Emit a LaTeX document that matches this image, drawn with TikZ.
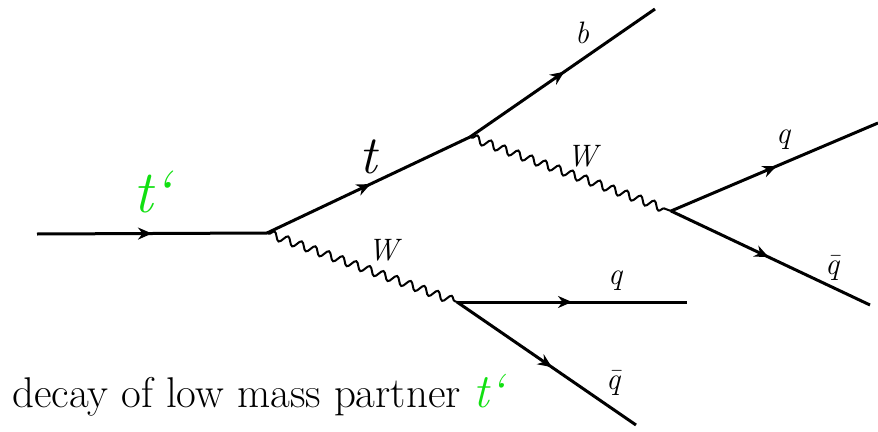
\documentclass[tikz,border=0pt]{standalone}
\usepackage{fontspec}
\usetikzlibrary{arrows.meta,decorations.markings,decorations.pathmorphing}
\definecolor{tpgreen}{HTML}{11E011}

\begin{document}
\begin{tikzpicture}[x=1pt,y=-1pt,
 fermion/.style={line width=3pt,postaction={decorate},
   decoration={markings,mark=at position #1 with {\arrow{Stealth[length=14pt,width=12pt]}}}},
 boson/.style={line width=2pt,decorate,decoration={snake,amplitude=4pt,segment length=14.5pt,pre length=2pt,post length=1pt}},
 lbl/.style={font=\fontsize{31}{31}\selectfont\itshape}]
\useasboundingbox (0,0) rectangle (878,431);
% vertices
\coordinate (in) at (37,234);
\coordinate (vA) at (267,233);
\coordinate (vB) at (470,137);
\coordinate (vC) at (671,211);
\coordinate (vD) at (457,302);
\coordinate (bout) at (655,9);
\coordinate (qout) at (878,123);
\coordinate (qbout) at (870,305);
\coordinate (q2out) at (687,302);
\coordinate (qb2out) at (636,425);
% lines
\draw[fermion=0.5] (in) -- (vA);
\draw[fermion=0.51] (vA) -- (vB);
\draw[fermion=0.51] (vB) -- (bout);
\draw[fermion=0.51] (vC) -- (qout);
\draw[fermion=0.49] (vC) -- (qbout);
\draw[fermion=0.5] (vD) -- (q2out);
\draw[fermion=0.53] (vD) -- (qb2out);
\draw[boson] (vB) -- (vC);
\draw[boson] (vA) -- (vD);
% labels
\node[lbl,text=tpgreen,font=\fontsize{60}{60}\selectfont\itshape] (tplbl) at (152,192) {t‘};
\node[lbl,font=\fontsize{54}{54}\selectfont\itshape] (tlbl) at (368,157) {t};
\node[lbl] (blbl) at (582,33) {b};
\node[lbl] (wup) at (582,156) {W};
\node[lbl] (qup) at (783,140) {q};
\node[lbl] (qbup) at (832,268) {\=q};
\node[lbl] (wlow) at (383,250) {W};
\node[lbl] (qlow) at (615,281) {q};
\node[lbl] (qblow) at (613,383) {\=q};
\node[anchor=base west,inner sep=0pt,font=\fontsize{43}{43}\selectfont] (caption) at (12,407)
  {decay of low mass partner \textcolor{tpgreen}{\fontsize{48}{48}\selectfont\itshape t‘}};
\end{tikzpicture}
\end{document}
